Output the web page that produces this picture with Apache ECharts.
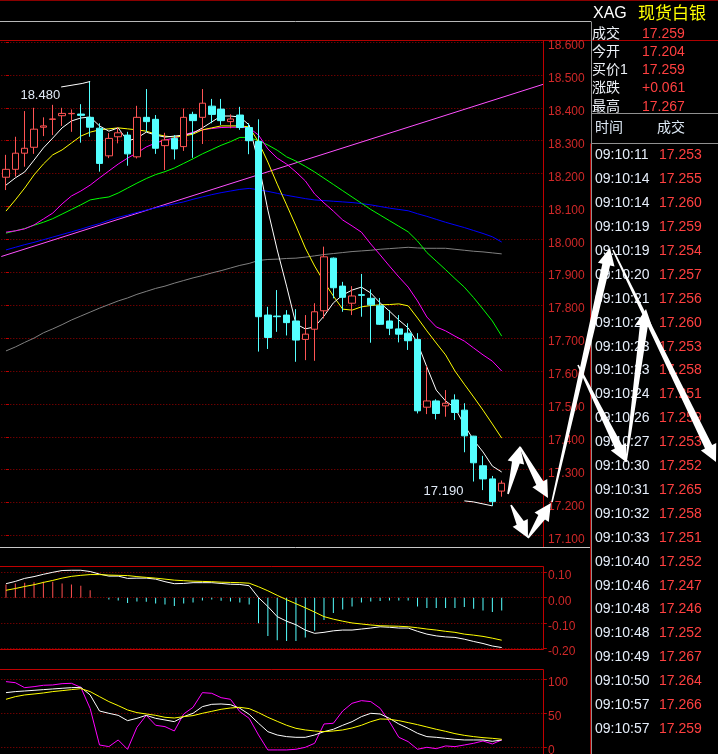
<!DOCTYPE html>
<html><head><meta charset="utf-8">
<script src="https://cdn.jsdelivr.net/npm/echarts@6/dist/echarts.min.js"></script>
<style>html,body{margin:0;padding:0;background:#000;overflow:hidden}#c{width:718px;height:754px}</style>
</head><body><div id="c"></div>
<script>
// ---------- data ----------
const slotCount = 58;
const candleOpen = [18.189,18.213,18.262,18.280,18.341,18.365,18.376,18.382,18.381,18.371,18.338,18.254,18.312,18.317,18.251,18.371,18.365,18.285,18.307,18.282,18.380,18.371,18.405,18.396,18.358,18.378,18.340,18.298,17.770,17.767,17.770,17.752,17.696,17.727,17.783,17.943,17.858,17.806,17.832,17.821,17.798,17.752,17.728,17.715,17.696,17.490,17.509,17.494,17.512,17.481,17.402,17.312,17.272,17.235];
const candleClose = [18.213,18.262,18.277,18.335,18.345,18.366,18.383,18.383,18.377,18.341,18.231,18.307,18.324,18.260,18.371,18.358,18.277,18.302,18.275,18.371,18.361,18.414,18.380,18.361,18.366,18.340,18.300,17.765,17.702,17.765,17.747,17.694,17.712,17.780,17.947,17.853,17.824,17.828,17.830,17.801,17.742,17.730,17.712,17.692,17.479,17.509,17.471,17.502,17.474,17.403,17.321,17.272,17.203,17.259];
const candleLow = [18.150,18.191,18.221,18.260,18.314,18.317,18.345,18.327,18.294,18.312,18.206,18.247,18.292,18.224,18.246,18.327,18.260,18.211,18.243,18.269,18.248,18.290,18.353,18.348,18.338,18.333,18.259,17.659,17.667,17.719,17.708,17.628,17.633,17.631,17.760,17.821,17.780,17.770,17.765,17.686,17.740,17.709,17.687,17.664,17.471,17.469,17.453,17.461,17.451,17.353,17.264,17.238,17.190,17.218];
const candleHigh = [18.257,18.312,18.390,18.400,18.371,18.409,18.400,18.395,18.411,18.480,18.353,18.323,18.340,18.327,18.406,18.457,18.378,18.324,18.317,18.398,18.388,18.457,18.427,18.427,18.380,18.403,18.353,18.365,17.795,17.846,17.785,17.788,17.770,17.806,17.978,17.945,17.871,17.858,17.895,17.848,17.822,17.785,17.770,17.745,17.715,17.615,17.514,17.542,17.529,17.502,17.403,17.342,17.281,17.267];

const ma5 = [18.165,18.187,18.205,18.241,18.278,18.308,18.339,18.360,18.369,18.372,18.345,18.329,18.339,18.299,18.308,18.326,18.317,18.311,18.314,18.317,18.323,18.339,18.357,18.375,18.375,18.372,18.348,18.232,18.089,17.968,17.858,17.743,17.728,17.734,17.767,17.807,17.831,17.846,17.855,17.837,17.807,17.782,17.755,17.731,17.685,17.612,17.542,17.509,17.488,17.436,17.390,17.354,17.311,17.293];
const ma10 = [18.086,18.120,18.156,18.196,18.229,18.257,18.272,18.293,18.314,18.326,18.333,18.336,18.339,18.336,18.333,18.329,18.320,18.314,18.311,18.314,18.320,18.333,18.339,18.345,18.345,18.345,18.342,18.296,18.235,18.168,18.105,18.041,17.974,17.919,17.871,17.828,17.788,17.785,17.795,17.799,17.801,17.802,17.804,17.798,17.761,17.722,17.685,17.649,17.600,17.560,17.521,17.481,17.439,17.396];
const ma20 = [18.022,18.026,18.032,18.044,18.062,18.080,18.108,18.132,18.147,18.165,18.187,18.208,18.229,18.247,18.263,18.281,18.293,18.302,18.308,18.317,18.326,18.333,18.337,18.340,18.341,18.341,18.339,18.317,18.275,18.247,18.229,18.205,18.178,18.138,18.111,18.086,18.059,18.041,18.022,17.986,17.953,17.919,17.886,17.855,17.813,17.764,17.734,17.722,17.706,17.691,17.670,17.649,17.630,17.600];
const ma30 = [18.019,18.026,18.033,18.043,18.052,18.063,18.077,18.091,18.105,18.120,18.125,18.129,18.141,18.156,18.171,18.185,18.197,18.206,18.217,18.231,18.245,18.260,18.273,18.286,18.297,18.310,18.310,18.300,18.287,18.271,18.251,18.238,18.222,18.205,18.186,18.167,18.148,18.129,18.110,18.091,18.074,18.057,18.040,18.023,17.995,17.960,17.934,17.908,17.881,17.855,17.823,17.788,17.752,17.706];
const ma60 = [17.968,17.976,17.984,17.991,17.999,18.007,18.015,18.023,18.031,18.040,18.048,18.058,18.067,18.074,18.082,18.089,18.096,18.102,18.108,18.114,18.122,18.129,18.136,18.142,18.147,18.152,18.155,18.151,18.146,18.140,18.134,18.129,18.124,18.120,18.118,18.116,18.114,18.112,18.109,18.105,18.100,18.095,18.091,18.087,18.078,18.070,18.061,18.052,18.044,18.036,18.027,18.018,18.008,17.992];
const ma120 = [17.661,17.673,17.687,17.700,17.716,17.728,17.741,17.755,17.767,17.779,17.791,17.802,17.813,17.822,17.833,17.842,17.851,17.858,17.867,17.875,17.883,17.890,17.898,17.905,17.913,17.921,17.927,17.936,17.939,17.940,17.942,17.943,17.946,17.950,17.954,17.957,17.960,17.963,17.965,17.967,17.970,17.972,17.974,17.976,17.974,17.973,17.973,17.973,17.970,17.967,17.964,17.962,17.959,17.956];
const trendLine = [[-0.5, 17.948], [57.5, 18.472]];

const macdBar = [0.052,0.056,0.059,0.061,0.063,0.063,0.056,0.052,0.047,0.029,0,-0.007,-0.011,-0.021,-0.015,-0.016,-0.023,-0.027,-0.033,-0.023,-0.019,-0.011,-0.007,-0.012,-0.015,-0.019,-0.027,-0.101,-0.151,-0.168,-0.171,-0.171,-0.157,-0.131,-0.088,-0.061,-0.047,-0.035,-0.019,-0.015,-0.013,-0.011,-0.011,-0.011,-0.035,-0.041,-0.041,-0.041,-0.041,-0.037,-0.044,-0.051,-0.057,-0.051];
const macdDif = [0.055,0.064,0.076,0.083,0.092,0.100,0.107,0.108,0.108,0.103,0.093,0.085,0.085,0.076,0.077,0.077,0.073,0.063,0.055,0.056,0.059,0.059,0.059,0.056,0.053,0.052,0.047,0.000,-0.035,-0.075,-0.093,-0.107,-0.128,-0.141,-0.137,-0.131,-0.128,-0.128,-0.124,-0.120,-0.115,-0.117,-0.120,-0.120,-0.133,-0.144,-0.151,-0.155,-0.157,-0.164,-0.173,-0.181,-0.191,-0.197];
const macdDea = [0.029,0.036,0.044,0.051,0.060,0.068,0.077,0.084,0.088,0.091,0.091,0.089,0.088,0.087,0.083,0.080,0.077,0.073,0.069,0.067,0.065,0.064,0.063,0.061,0.060,0.059,0.057,0.043,0.027,0.009,-0.008,-0.024,-0.040,-0.057,-0.075,-0.085,-0.093,-0.100,-0.104,-0.108,-0.111,-0.112,-0.113,-0.115,-0.119,-0.124,-0.128,-0.133,-0.137,-0.144,-0.148,-0.153,-0.160,-0.168];

const kdjK = [80.4,81.9,82.8,83.8,84.8,85.8,86.8,87.7,88.2,77,53.4,50,47,39.2,42.6,47,42.6,40.2,37.7,45.1,50,59.8,63.2,63.7,62.7,57.4,48.5,35.3,23,18.1,15.7,14.7,14.7,18.1,23,26.5,32.4,37.7,45.1,50,49,42.6,34.3,27.9,20.6,15.7,14.7,13.2,11.8,10.8,10.8,10.8,8.8,10.8];
const kdjD = [70.6,74.5,77,78.4,79.9,81.9,83.3,84.8,86.3,81.9,74.5,67.2,61.3,54.9,51,49,47,44.1,43.1,45.1,46.6,50,52.9,55.9,57.8,58.8,56.9,51,44.1,38.2,32.4,27.9,25.5,24,23,24,25.5,28.4,32.4,37.7,41.7,41.2,39.2,36.3,33.3,29.9,26.5,23.5,20.1,17.6,15.7,14.2,13.2,11.8];
const kdjJ = [96.6,95,87.7,89.2,91.2,91.7,93.6,94.1,88.2,57,3.4,1,10.8,-3,29.4,47,32.4,30.4,24,49,58.8,80.4,79.4,73,70.6,52.5,42.6,18.1,-3.9,-3.9,-3.9,-2.9,0,5.9,34.3,35.3,53.4,64.7,68.6,67.2,57.4,37.7,14.7,8.3,-2.9,0,-2,2,1,3.4,5.9,9.3,4.9,10.8];

const priceTicks = ['18.600','18.500','18.400','18.300','18.200','18.100','18.000','17.900','17.800','17.700','17.600','17.500','17.400','17.300','17.200','17.100'];
const macdTicks = ['0.10','0.00','-0.10','-0.20'];
const kdjTicks = ['100','50','0'];

const highMark = {index: 9, value: 18.480, text: '18.480'};
const lowMark = {index: 52, value: 17.190, text: '17.190'};

const quoteTitle = ['XAG', '现货白银'];
const quoteLabels = ['成交', '今开', '买价1', '涨跌', '最高'];
const quoteValues = ['17.259', '17.204', '17.259', '+0.061', '17.267'];
const tickHeader = ['时间', '成交'];
const tickTimes = ['09:10:11','09:10:14','09:10:14','09:10:19','09:10:19','09:10:20','09:10:21','09:10:22','09:10:23','09:10:23','09:10:24','09:10:26','09:10:27','09:10:30','09:10:31','09:10:32','09:10:33','09:10:40','09:10:46','09:10:48','09:10:48','09:10:49','09:10:50','09:10:57','09:10:57'];
const tickPrices = ['17.253','17.255','17.260','17.259','17.254','17.257','17.256','17.260','17.253','17.258','17.251','17.259','17.253','17.252','17.265','17.258','17.251','17.252','17.247','17.246','17.252','17.267','17.264','17.266','17.259'];

// ---------- chart ----------
const FONT = '"Liberation Sans", Arial, "Noto Sans CJK SC", sans-serif';
const RED_AX = '#d02828';
const GRID_DOT = {color: '#9a0000', type: [1, 2], width: 1};
const cats = Array.from({length: slotCount}, (_, i) => String(i));
const chart = echarts.init(document.getElementById('c'), null, {renderer: 'canvas'});

const G = {left: 1.3, width: 542.5};
function yAx(grid, min, max, interval) {
  return {
    type: 'value', gridIndex: grid, position: 'right', min: min, max: max, interval: interval,
    axisLine: {show: false},
    axisTick: {show: true, length: 3, lineStyle: {color: '#c00000'}},
    axisLabel: {show: false},
    splitLine: {show: true, lineStyle: GRID_DOT}
  };
}
function line(name, data, color, xi, yi, extra) {
  return Object.assign({type: 'line', name: name, data: data, xAxisIndex: xi, yAxisIndex: yi,
    symbol: 'none', lineStyle: {color: color, width: 1}, itemStyle: {color: color}, clip: false,
    silent: true, z: 3}, extra || {});
}

const option = {
  backgroundColor: '#000000',
  animation: false,
  grid: [
    {left: G.left, width: G.width, top: 42, height: 493.5},
    {left: G.left, width: G.width, top: 572.3, height: 76},
    {left: G.left, width: G.width, top: 679.3, height: 68}
  ],
  xAxis: [
    {type: 'category', gridIndex: 0, data: cats, show: false, boundaryGap: true},
    {type: 'category', gridIndex: 1, data: cats, show: false, boundaryGap: true},
    {type: 'category', gridIndex: 2, data: cats, show: false, boundaryGap: true},
    {type: 'value', gridIndex: 0, min: -0.5, max: slotCount - 0.5, show: false}
  ],
  yAxis: [
    yAx(0, 17.1, 18.6, 0.1),
    yAx(1, -0.2, 0.1, 0.1),
    yAx(2, 0, 100, 50)
  ],
  series: [
    line('trend', trendLine, '#ff50ff', 3, 0),
    line('MA120', ma120, '#808080', 0, 0),
    line('MA60', ma60, '#0000ff', 0, 0),
    line('MA30', ma30, '#00ff00', 0, 0),
    line('MA20', ma20, '#ff00ff', 0, 0),
    line('MA10', ma10, '#ffff00', 0, 0),
    line('MA5', ma5, '#ffffff', 0, 0),
    {
      type: 'candlestick', xAxisIndex: 0, yAxisIndex: 0, barWidth: 7, z: 5, silent: true,
      data: candleOpen.map((o, i) => [o, candleClose[i], candleLow[i], candleHigh[i]]),
      itemStyle: {color: '#000000', color0: '#54ffff', borderColor: '#ff5454', borderColor0: '#54ffff', borderWidth: 1}
    },
    {
      type: 'bar', xAxisIndex: 1, yAxisIndex: 1, barWidth: 1, silent: true,
      data: macdBar.map(v => ({value: v, itemStyle: {color: v >= 0 ? '#ff5050' : '#54ffff'}}))
    },
    line('DIF', macdDif, '#ffffff', 1, 1),
    line('DEA', macdDea, '#ffff00', 1, 1),
    line('J', kdjJ, '#ff00ff', 2, 2),
    line('K', kdjK, '#ffffff', 2, 2),
    line('D', kdjD, '#ffff00', 2, 2)
  ]
};
chart.setOption(option);

// ---------- decorations ----------
function hl(x1, x2, y, c) { return {type: 'line', shape: {x1: x1, y1: y, x2: x2, y2: y}, style: {stroke: c, lineWidth: 1}, silent: true, z: 50}; }
function vl(x, y1, y2, c) { return {type: 'line', shape: {x1: x, y1: y1, x2: x, y2: y2}, style: {stroke: c, lineWidth: 1}, silent: true, z: 50}; }
function txt(t, x, y, color, size, align) {
  return {type: 'text', silent: true, z: 60, style: {text: t, x: x, y: y, fill: color, font: size + 'px ' + FONT, align: align || 'left', verticalAlign: 'middle'}};
}
function arrow(x1, y1, x2, y2) {
  const dx = x2 - x1, dy = y2 - y1, L = Math.hypot(dx, dy);
  const ux = dx / L, uy = dy / L, nx = -uy, ny = ux;
  const hlen = 17, hw = 8.5, sw = 4, tw = 0.8;
  const bx = x2 - ux * hlen, by = y2 - uy * hlen;
  return {type: 'polygon', silent: true, z: 200,
    shape: {points: [[x1 + nx * tw, y1 + ny * tw], [bx + nx * sw, by + ny * sw], [bx + nx * hw, by + ny * hw], [x2, y2], [bx - nx * hw, by - ny * hw], [bx - nx * sw, by - ny * sw], [x1 - nx * tw, y1 - ny * tw]]},
    style: {fill: '#ffffff'}};
}

const axX = 543.5;
const g = [];
g.push(hl(0, 718, 0.5, '#8a0000'));
g.push(hl(0, 591, 21.5, '#b8b8b8'));
g.push(hl(0, 718, 40.5, '#b00000'));
g.push(vl(axX, 40.5, 547, '#c00000'));
g.push(hl(0, 591, 547.5, '#c8c8c8'));
g.push(hl(0, axX, 566.5, '#c00000'));
g.push(vl(axX, 566.5, 649.5, '#c00000'));
g.push(hl(0, axX, 649.5, '#c00000'));
g.push(hl(0, axX, 669.5, '#c00000'));
g.push(vl(axX, 669.5, 754, '#c00000'));
g.push(vl(591.5, 21.5, 754, '#909090'));
g.push(vl(590.5, 143.5, 754, '#b00000'));
g.push(hl(591, 718, 113.5, '#909090'));
g.push(hl(591, 718, 143.5, '#909090'));

// axis tick labels, positioned through the axes' own scales
function axisLabels(list, yi) {
  list.forEach(t => {
    const y = chart.convertToPixel({yAxisIndex: yi}, parseFloat(t));
    g.push(txt(t, 548, y + 3.8, RED_AX, 12));
  });
}
axisLabels(priceTicks, 0);
axisLabels(macdTicks, 1);
axisLabels(kdjTicks, 2);

// right panel
g.push(txt(quoteTitle[0], 593, 14, '#ffffff', 16));
g.push(txt(quoteTitle[1], 638, 14, '#ffff00', 17));
quoteLabels.forEach((t, k) => {
  const y = 34.3 + 18.1 * k;
  g.push(txt(t, 592, y, '#eef2f8', 14));
  g.push(txt(quoteValues[k], 642, y, '#ff4040', 14));
});
g.push(txt(tickHeader[0], 595, 128, '#dde8f4', 14));
g.push(txt(tickHeader[1], 657, 128, '#dde8f4', 14));
tickTimes.forEach((t, k) => {
  const y = 155.5 + 23.9 * k;
  g.push(txt(t, 595, y, '#e6eefa', 14));
  g.push(txt(tickPrices[k], 659, y, '#ff4040', 14));
});

// high / low labels anchored to data
const hp = chart.convertToPixel({xAxisIndex: 0, yAxisIndex: 0}, [highMark.index, highMark.value]);
g.push({type: 'polyline', silent: true, z: 60, shape: {points: [[hp[0] - 29, hp[1] + 5.5], [hp[0] - 8, hp[1] + 2], [hp[0], hp[1]]]}, style: {stroke: '#ffffff', fill: null, lineWidth: 1}});
g.push(txt(highMark.text, hp[0] - 30, hp[1] + 14, '#dfe8f5', 13, 'right'));
const lp = chart.convertToPixel({xAxisIndex: 0, yAxisIndex: 0}, [lowMark.index, lowMark.value]);
g.push({type: 'polyline', silent: true, z: 60, shape: {points: [[lp[0] - 28, lp[1] - 5], [lp[0] - 19, lp[1] - 4], [lp[0], lp[1]]]}, style: {stroke: '#ffffff', fill: null, lineWidth: 1}});
g.push(txt(lowMark.text, lp[0] - 29, lp[1] - 14, '#dfe8f5', 13, 'right'));

// hand-drawn white arrows (annotation)
g.push(arrow(508, 494, 520, 446));
g.push(arrow(520, 447, 548, 498));
g.push(arrow(511, 505, 528, 538));
g.push(arrow(528, 538, 551, 503));
g.push(arrow(552, 502, 610, 248));
g.push(arrow(578, 365, 626, 462));
g.push(arrow(626, 462, 646, 309));
g.push(arrow(613, 250, 716, 462));

chart.setOption({graphic: g});
</script>
</body></html>
